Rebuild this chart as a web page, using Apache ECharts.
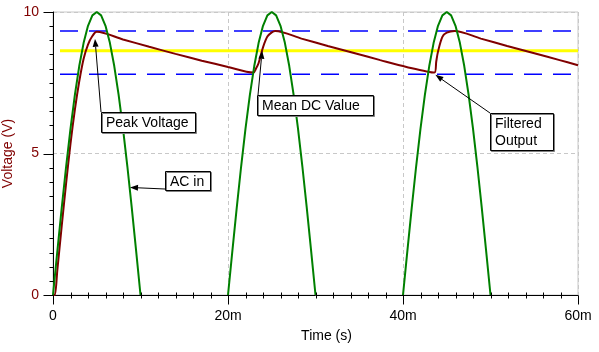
<!DOCTYPE html>
<html>
<head>
<meta charset="utf-8">
<script src="https://cdn.jsdelivr.net/npm/echarts@6/dist/echarts.min.js"></script>
<style>
html, body { margin: 0; padding: 0; background: #fff; }
#chart { width: 599px; height: 352px; }
</style>
</head>
<body>
<div id="chart"></div>
<script>
// time in ms, voltage in V
var acIn = [
    [0, 0], [0.5, 1.56], [1, 3.09], [1.5, 4.54], [2, 5.88], [2.5, 7.07], [3, 8.09], [3.5, 8.91], [4, 9.51], [4.5, 9.88],
    [5, 10], [5.5, 9.88], [6, 9.51], [6.5, 8.91], [7, 8.09], [7.5, 7.07], [8, 5.88], [8.5, 4.54], [9, 3.09], [9.5, 1.56], [10, 0],
    [15, '-'],
    [20, 0], [20.5, 1.56], [21, 3.09], [21.5, 4.54], [22, 5.88], [22.5, 7.07], [23, 8.09], [23.5, 8.91], [24, 9.51], [24.5, 9.88],
    [25, 10], [25.5, 9.88], [26, 9.51], [26.5, 8.91], [27, 8.09], [27.5, 7.07], [28, 5.88], [28.5, 4.54], [29, 3.09], [29.5, 1.56], [30, 0],
    [35, '-'],
    [40, 0], [40.5, 1.56], [41, 3.09], [41.5, 4.54], [42, 5.88], [42.5, 7.07], [43, 8.09], [43.5, 8.91], [44, 9.51], [44.5, 9.88],
    [45, 10], [45.5, 9.88], [46, 9.51], [46.5, 8.91], [47, 8.09], [47.5, 7.07], [48, 5.88], [48.5, 4.54], [49, 3.09], [49.5, 1.56], [50, 0]
];

var filtered = [
    [0, 0], [0.2, 0], [0.5, 0.9], [1, 2.45], [1.5, 3.95], [2, 5.35], [2.5, 6.55], [3, 7.55], [3.5, 8.35], [4, 8.85], [4.5, 9.15], [5, 9.3],
    [8, 9.03], [11, 8.77], [14, 8.52], [17, 8.28], [20, 8.06], [22.9, 7.86],
    [23.2, 8.0], [23.5, 8.2], [24, 8.75], [24.5, 9.13], [25, 9.28], [25.4, 9.33],
    [28.4, 9.06], [31.4, 8.8], [34.4, 8.55], [37.4, 8.3], [40.4, 8.06], [43.6, 7.86],
    [43.8, 8.25], [44, 8.6], [44.5, 9.12], [45, 9.27], [45.9, 9.33],
    [48.9, 9.06], [51.9, 8.8], [54.9, 8.55], [57.9, 8.3], [60, 8.12]
];

var peakLevel = [[0.8, 9.33], [59.5, 9.33]];
var valleyLevel = [[0.8, 7.8], [59.5, 7.8]];
var meanLevel = [[0.8, 8.63], [60, 8.63]];

var xMajorTicks = [0, 20, 40, 60];
var yMajorTicks = [0, 5, 10];
var xMinorStep = 2;
var yMinorStep = 0.5;

var notes = [
    { text: 'Peak Voltage', box: [101, 112, 94, 20], from: [101, 112], tip: [4.8, 9.05] },
    { text: 'Mean DC Value', box: [257, 95, 116, 20], from: [258, 95], tip: [23.9, 8.63] },
    { text: 'AC in', box: [165, 171, 45, 19], from: [165, 189], tip: [8.8, 3.8] },
    { text: 'Filtered\nOutput', box: [490, 113, 63, 37], from: [490, 113], tip: [43.7, 7.78] }
];

var font = '"Liberation Sans", Arial, sans-serif';
var myChart = echarts.init(document.getElementById('chart'));

option = {
    backgroundColor: '#fff',
    animation: false,
    grid: {
        left: 53,
        right: 21,
        top: 12,
        bottom: 57,
        outerBoundsMode: 'none',
        containLabel: false,
        show: true,
        borderColor: '#c8c8c8',
        borderWidth: 1
    },
    xAxis: {
        type: 'value',
        min: 0,
        max: 60,
        interval: 20,
        name: 'Time (s)',
        nameLocation: 'middle',
        nameGap: 34,
        nameMoveOverlap: false,
        nameTextStyle: { color: '#000', fontSize: 14, fontFamily: font, padding: [0, 0, 0, 22] },
        axisLine: { lineStyle: { color: '#000', width: 1 } },
        axisTick: { show: false },
        axisLabel: {
            color: '#000',
            fontSize: 14,
            fontFamily: font,
            margin: 14,
            formatter: function (v) { return v === 0 ? '0' : v + 'm'; }
        },
        splitLine: { show: true, lineStyle: { color: '#c8c8c8', type: [4, 3] } }
    },
    yAxis: {
        type: 'value',
        min: 0,
        max: 10,
        interval: 5,
        name: 'Voltage (V)',
        nameLocation: 'middle',
        nameGap: 38,
        nameMoveOverlap: false,
        nameTextStyle: { color: '#800000', fontSize: 14, fontFamily: font },
        axisLine: { show: true, lineStyle: { color: '#000', width: 1 } },
        axisTick: { show: false },
        axisLabel: { color: '#800000', fontSize: 14, fontFamily: font, margin: 14 },
        splitLine: { show: true, lineStyle: { color: '#c8c8c8', type: [4, 3] } }
    },
    series: [
        {
            name: 'peak', type: 'line', data: peakLevel, symbol: 'none', silent: true,
            lineStyle: { color: '#0000ff', width: 1.5, type: [18, 11] }
        },
        {
            name: 'valley', type: 'line', data: valleyLevel, symbol: 'none', silent: true,
            lineStyle: { color: '#0000ff', width: 1.5, type: [18, 11] }
        },
        {
            name: 'mean', type: 'line', data: meanLevel, symbol: 'none', silent: true,
            lineStyle: { color: '#ffff00', width: 3 }
        },
        {
            name: 'Filtered Output', type: 'line', data: filtered, symbol: 'none', smooth: 0.3,
            lineStyle: { color: '#800000', width: 2 }
        },
        {
            name: 'AC in', type: 'line', data: acIn, symbol: 'none', connectNulls: false,
            lineStyle: { color: '#008000', width: 2 }
        }
    ]
};
myChart.setOption(option);

var graphics = [];
function tickLine(x1, y1, x2, y2) {
    graphics.push({
        type: 'line', z: 90, silent: true,
        shape: { x1: x1, y1: y1, x2: x2, y2: y2 },
        style: { stroke: '#000', lineWidth: 1 }
    });
}

// axis ticks, placed through the chart's own scales
var origin = myChart.convertToPixel({ gridIndex: 0 }, [0, 0]);
var ax = Math.round(origin[0]) + 0.5, ay = Math.round(origin[1]) + 0.5;
for (var t = 0; t <= 60 + 1e-9; t += xMinorStep) {
    var px = Math.round(myChart.convertToPixel({ gridIndex: 0 }, [t, 0])[0]) + 0.5;
    if (xMajorTicks.indexOf(Math.round(t)) >= 0) tickLine(px, ay, px, ay + 9);
    else tickLine(px, ay - 3, px, ay + 3);
}
for (var v = 0; v <= 10 + 1e-9; v += yMinorStep) {
    var py = Math.round(myChart.convertToPixel({ gridIndex: 0 }, [0, v])[1]) + 0.5;
    if (yMajorTicks.indexOf(v) >= 0) tickLine(ax - 10, py, ax, py);
    else tickLine(ax - 4, py, ax, py);
}

// annotation boxes with arrows pointing at data positions
notes.forEach(function (n) {
    var tip = myChart.convertToPixel({ gridIndex: 0 }, n.tip);
    var dx = tip[0] - n.from[0], dy = tip[1] - n.from[1];
    var len = Math.sqrt(dx * dx + dy * dy);
    var ux = dx / len, uy = dy / len;
    var L = 8, W = 3;
    var bx = tip[0] - ux * L, by = tip[1] - uy * L;
    graphics.push({
        type: 'line', z: 100, silent: true,
        shape: { x1: n.from[0], y1: n.from[1], x2: bx, y2: by },
        style: { stroke: '#000', lineWidth: 1 }
    });
    graphics.push({
        type: 'polygon', z: 100, silent: true,
        shape: { points: [[tip[0], tip[1]], [bx - uy * W, by + ux * W], [bx + uy * W, by - ux * W]] },
        style: { fill: '#000' }
    });
    graphics.push({
        type: 'rect', z: 101, silent: true,
        shape: { x: n.box[0] + 0.5, y: n.box[1] + 0.5, width: n.box[2], height: n.box[3] },
        style: { fill: '#fff', stroke: '#000', lineWidth: 1, shadowColor: '#808080', shadowOffsetX: 1, shadowOffsetY: 1, shadowBlur: 0 }
    });
    graphics.push({
        type: 'text', z: 102, silent: true,
        style: {
            text: n.text, x: n.box[0] + 5, y: n.box[1] + 3,
            font: '14px ' + font, fill: '#000', lineHeight: 17
        }
    });
});
myChart.setOption({ graphic: graphics });
</script>
</body>
</html>
